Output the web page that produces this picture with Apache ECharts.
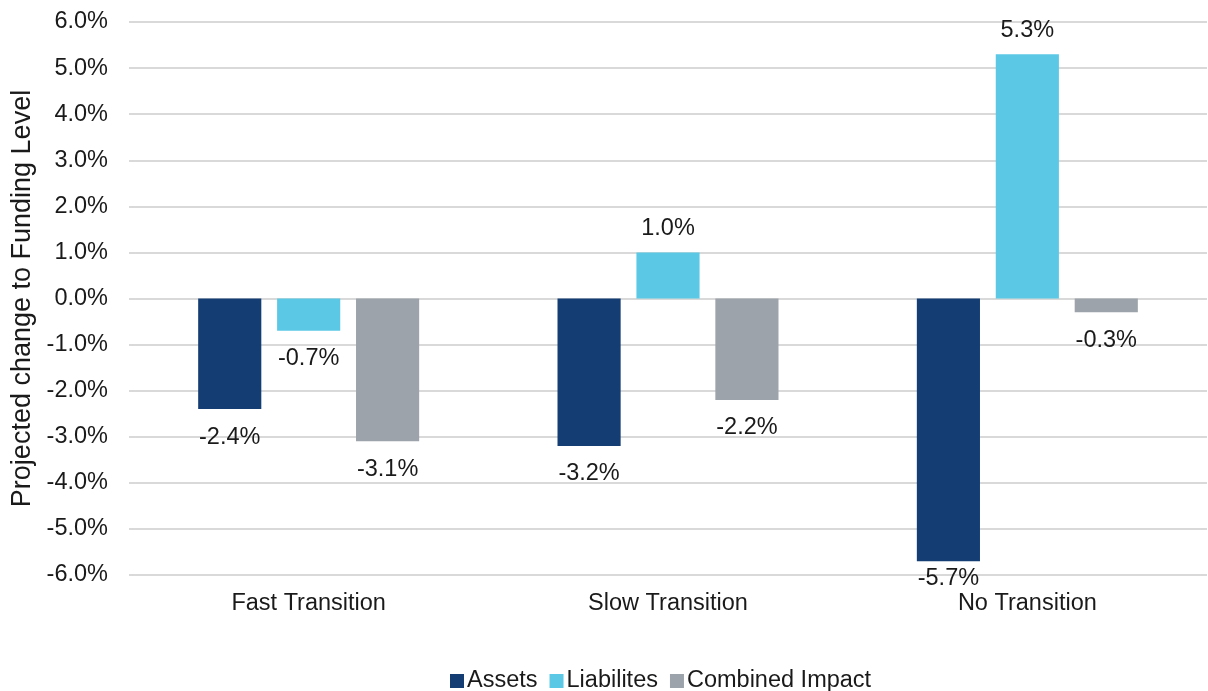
<!DOCTYPE html>
<html>
<head>
<meta charset="utf-8">
<script src="https://cdn.jsdelivr.net/npm/echarts@6/dist/echarts.min.js"></script>
<style>
    html, body { margin: 0; padding: 0; background: #fff; }
    #chart { width: 1208px; height: 691px; }
</style>
</head>
<body>
<div id="chart"></div>
<script>
var categories = ['Fast Transition', 'Slow Transition', 'No Transition']
var assets = [-2.4, -3.2, -5.7]
var liabilities = [-0.7, 1.0, 5.3]
var combined = [-3.1, -2.2, -0.3]
var yTicks = { min: -6, max: 6, step: 1 }

var font = 'Liberation Sans, Arial, sans-serif'
var fs = 23.5

// positive values get the label above, negative below
// (labels near the bottom of the plot get squeezed up, like excel does)
function withLabels (values) {
    return values.map(function (v) {
        var dist = v >= 0 ? 12 : 16
        if (v < -5) dist = 5
        return {
            value: v,
            label: { position: v >= 0 ? 'top' : 'bottom', distance: dist }
        }
    })
}

function makeSeries (name, values, color) {
    return {
        name: name,
        type: 'bar',
        barGap: '25%',
        barCategoryGap: '38.5%',
        itemStyle: { color: color },
        label: {
            show: true,
            color: '#1a1a1a',
            fontSize: fs,
            fontFamily: font,
            formatter: function (p) { return p.value.toFixed(1) + '%' }
        },
        data: withLabels(values)
    }
}

var myChart = echarts.init(document.getElementById('chart'))
myChart.setOption({
    animation: false,
    textStyle: { fontFamily: font },
    grid: { left: 129, right: 1, top: 22, bottom: 116 },
    legend: {
        top: 664,
        left: 445,
        icon: 'rect',
        itemWidth: 14,
        itemHeight: 14,
        itemGap: 12,
        textStyle: { fontSize: fs, color: '#1a1a1a', fontFamily: font, padding: [0, 0, 0, -2] },
        data: ['Assets', 'Liabilites', 'Combined Impact']
    },
    xAxis: {
        type: 'category',
        data: categories,
        axisTick: { show: false },
        axisLine: { show: false },
        axisLabel: { fontSize: fs, color: '#1a1a1a', margin: 17, fontFamily: font }
    },
    yAxis: {
        type: 'value',
        min: yTicks.min,
        max: yTicks.max,
        interval: yTicks.step,
        name: 'Projected change to Funding Level',
        nameLocation: 'middle',
        nameGap: 93,
        nameTextStyle: { fontSize: 27, color: '#1a1a1a', fontFamily: font },
        axisLine: { show: false },
        axisTick: { show: false },
        axisLabel: {
            fontSize: fs,
            color: '#1a1a1a',
            margin: 21,
            fontFamily: font,
            formatter: function (v) { return v.toFixed(1) + '%' }
        },
        splitLine: { lineStyle: { color: '#d9d9d9', width: 2 } }
    },
    series: [
        makeSeries('Assets', assets, '#133d73'),
        makeSeries('Liabilites', liabilities, '#5bc9e6'),
        makeSeries('Combined Impact', combined, '#9ca3aa')
    ]
})
</script>
</body>
</html>
